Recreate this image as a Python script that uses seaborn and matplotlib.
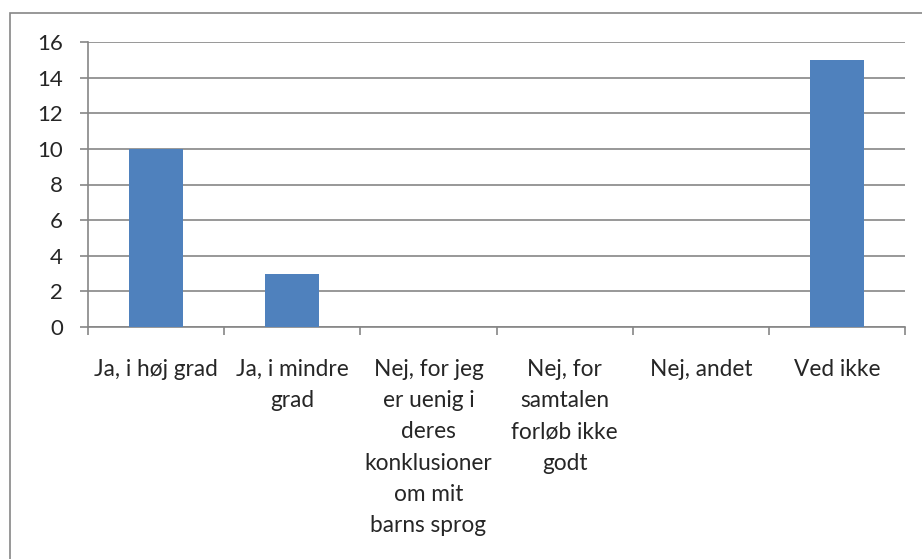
import matplotlib
matplotlib.use('Agg')
import matplotlib.pyplot as plt
import seaborn as sb
import pandas as pd
from matplotlib.patches import Rectangle

categories = ['Ja, i høj grad', 'Ja, i mindre\ngrad',
              'Nej, for jeg\ner uenig i\nderes\nkonklusioner\nom mit\nbarns sprog',
              'Nej, for\nsamtalen\nforløb ikke\ngodt', 'Nej, andet', 'Ved ikke']
counts = [10, 3, 0, 0, 0, 15]
yticks = [0, 2, 4, 6, 8, 10, 12, 14, 16]

df = pd.DataFrame({'svar': categories, 'antal': counts})

sb.set_style('white')
plt.rcParams['font.family'] = ['Lato', 'DejaVu Sans']

fig = plt.figure(figsize=(9.22, 5.59), dpi=100)
ax = fig.add_axes([88/922, 1 - 327/559, (905 - 88)/922, (327 - 42)/559])

# grey frame of the chart area (cropped at right/bottom)
fig.patches.append(Rectangle((10/922, -0.1), 1.2, 1 - 13/559 + 0.1,
                             transform=fig.transFigure, fill=False,
                             edgecolor='#868686', linewidth=1.2))

ax.set_axisbelow(True)
ax.yaxis.grid(True, color='#868686', linewidth=1.2)
sb.barplot(data=df, x='svar', y='antal', color='#4F81BD', width=0.4,
           saturation=1, linewidth=0, ax=ax, zorder=3)

ax.set_ylim(0, 16)
ax.set_xlim(-0.5, len(categories) - 0.5)
ax.set_yticks(yticks)
ax.set_yticklabels([str(v) for v in yticks], fontsize=16)
ax.set_xticks(range(len(categories)))
ax.set_xticklabels(categories, fontsize=16.3, linespacing=1.6, va='top')
ax.tick_params(axis='x', length=0, pad=23)
ax.tick_params(axis='y', length=6, width=1.2, color='#868686', left=True, pad=12)
# category boundary ticks
ax.set_xticks([i - 0.5 for i in range(len(categories) + 1)], minor=True)
ax.tick_params(axis='x', which='minor', length=6, width=1.2, color='#868686', bottom=True)

for side in ['top', 'right']:
    ax.spines[side].set_visible(False)
for side in ['left', 'bottom']:
    ax.spines[side].set_color('#868686')
    ax.spines[side].set_linewidth(1.2)

ax.set_xlabel('')
ax.set_ylabel('')
fig.savefig('out.png', dpi=100)
